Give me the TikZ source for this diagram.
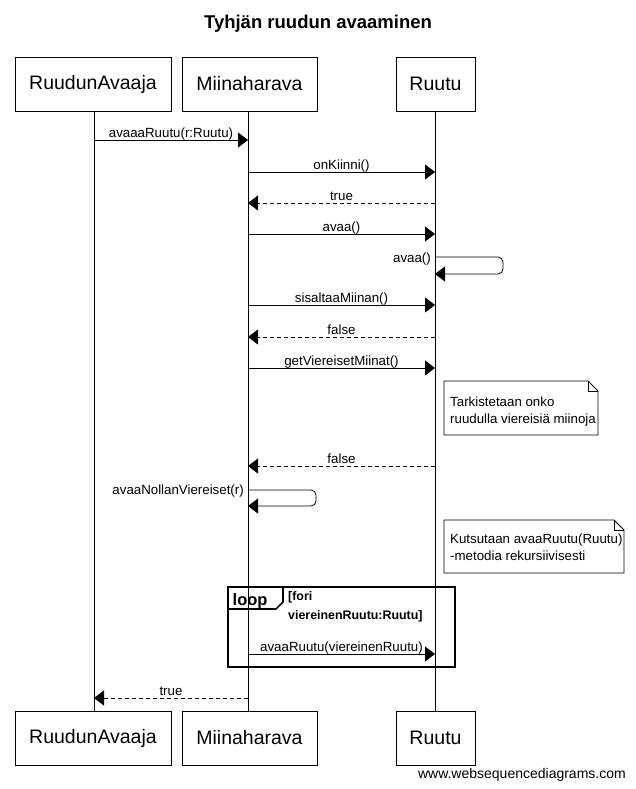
\documentclass[tikz,border=0pt]{standalone}
\usepackage{fontspec}
\setmainfont{Liberation Sans}
\usetikzlibrary{arrows.meta}
\begin{document}
\begin{tikzpicture}[x=1pt,y=-1pt,
  actor/.style={draw,line width=0.8pt,fill=white,minimum height=54pt,inner sep=0pt,font=\fontsize{19.5}{22}\selectfont},
  lifeline/.style={line width=0.8pt},
  msg/.style={line width=0.8pt,-{Triangle[length=10pt,width=15pt]}},
  reply/.style={msg,dash pattern=on 4pt off 3pt},
  lbl/.style={font=\fontsize{13.3}{15}\selectfont,inner sep=0pt,anchor=base,yshift=2.5pt},
  selflbl/.style={font=\fontsize{13.3}{15}\selectfont,inner sep=0pt,anchor=base east},
  notebox/.style={draw,line width=0.8pt,fill=white},
  notetext/.style={font=\fontsize{13.3}{15}\selectfont,anchor=base west,inner sep=0pt},
  guardtext/.style={font=\bfseries\fontsize{12.4}{15}\selectfont,anchor=base west,inner sep=0pt}]
\useasboundingbox (0,0) rectangle (635,789);
\fill[white] (0,0) rectangle (635,789);

% title
\node[font=\bfseries\fontsize{18.5}{22}\selectfont] (title) at (318,24) {Tyhjän ruudun avaaminen};

% participants, top and bottom
\node[actor,minimum width=156pt] (a1) at (93,84) {RuudunAvaaja};
\node[actor,minimum width=135pt] (b1) at (249.5,84) {Miinaharava};
\node[actor,minimum width=79pt] (c1) at (435.5,84) {Ruutu};
\node[actor,minimum width=156pt] (a2) at (93,738) {RuudunAvaaja};
\node[actor,minimum width=135pt] (b2) at (249.5,738) {Miinaharava};
\node[actor,minimum width=79pt] (c2) at (435.5,738) {Ruutu};

% lifelines
\coordinate (la) at (94,0); \coordinate (lb) at (248,0); \coordinate (lc) at (435,0);
\draw[lifeline] (la |- a1.south) -- (la |- a2.north);
\draw[lifeline] (lb |- b1.south) -- (lb |- b2.north);
\draw[lifeline] (lc |- c1.south) -- (lc |- c2.north);

% messages
\coordinate (m1a) at (94,140);  \coordinate (m1b) at (248,140);
\draw[msg] (m1a) -- node[lbl] {avaaaRuutu(r:Ruutu)} (m1b);
\coordinate (m2a) at (248,172); \coordinate (m2b) at (435,172);
\draw[msg] (m2a) -- node[lbl] {onKiinni()} (m2b);
\coordinate (m3a) at (435,203); \coordinate (m3b) at (248,203);
\draw[reply] (m3a) -- node[lbl] {true} (m3b);
\coordinate (m4a) at (248,234); \coordinate (m4b) at (435,234);
\draw[msg] (m4a) -- node[lbl] {avaa()} (m4b);

% self call on Ruutu
\coordinate (s1a) at (435,257); \coordinate (s1b) at (435,274);
\draw[msg,rounded corners=5pt] (s1a) -- (503,257) -- (503,274) -- (s1b);
\node[selflbl] (s1l) at (431,262) {avaa()};

\coordinate (m5a) at (248,305); \coordinate (m5b) at (435,305);
\draw[msg] (m5a) -- node[lbl] {sisaltaaMiinan()} (m5b);
\coordinate (m6a) at (435,337); \coordinate (m6b) at (248,337);
\draw[reply] (m6a) -- node[lbl] {false} (m6b);
\coordinate (m7a) at (248,368); \coordinate (m7b) at (435,368);
\draw[msg] (m7a) -- node[lbl] {getViereisetMiinat()} (m7b);

% note 1
\draw[notebox] (444,381) -- (588,381) -- (598,391) -- (598,435) -- (444,435) -- cycle;
\draw[line width=0.8pt] (588,381) -- (588,391) -- (598,391);
\node[notetext] (n1a) at (450,406.5) {Tarkistetaan onko};
\node[notetext] (n1b) at (450,423) {ruudulla viereisiä miinoja};

\coordinate (m8a) at (435,466); \coordinate (m8b) at (248,466);
\draw[reply] (m8a) -- node[lbl] {false} (m8b);

% self call on Miinaharava
\coordinate (s2a) at (248,490); \coordinate (s2b) at (248,506);
\draw[msg,rounded corners=5pt] (s2a) -- (316,490) -- (316,506) -- (s2b);
\node[selflbl] (s2l) at (244,494.5) {avaaNollanViereiset(r)};

% note 2
\draw[notebox] (444,520) -- (614,520) -- (624,530) -- (624,573) -- (444,573) -- cycle;
\draw[line width=0.8pt] (614,520) -- (614,530) -- (624,530);
\node[notetext] (n2a) at (450,543.5) {Kutsutaan avaaRuutu(Ruutu)};
\node[notetext] (n2b) at (450,560) {-metodia rekursiivisesti};

% loop frame
\draw[line width=1.6pt] (228,587) rectangle (455,667);
\draw[line width=1.6pt] (228,587) -- (283,587) -- (283,602) -- (276,609) -- (228,609);
\node[font=\bfseries\fontsize{16.5}{18}\selectfont,anchor=base west,inner sep=0pt] (lp) at (232.5,605.5) {loop};
\node[guardtext] (g1) at (288,600.5) {[fori};
\node[guardtext] (g2) at (288,619.5) {viereinenRuutu:Ruutu]};

\coordinate (m9a) at (248,654); \coordinate (m9b) at (435,654);
\draw[msg] (m9a) -- node[lbl] {avaaRuutu(viereinenRuutu)} (m9b);

\coordinate (m10a) at (248,698); \coordinate (m10b) at (94,698);
\draw[reply] (m10a) -- node[lbl] {true} (m10b);

% footer
\node[font=\fontsize{14}{16}\selectfont,anchor=east,inner sep=0pt] (foot) at (626,775) {www.websequencediagrams.com};
\end{tikzpicture}
\end{document}
